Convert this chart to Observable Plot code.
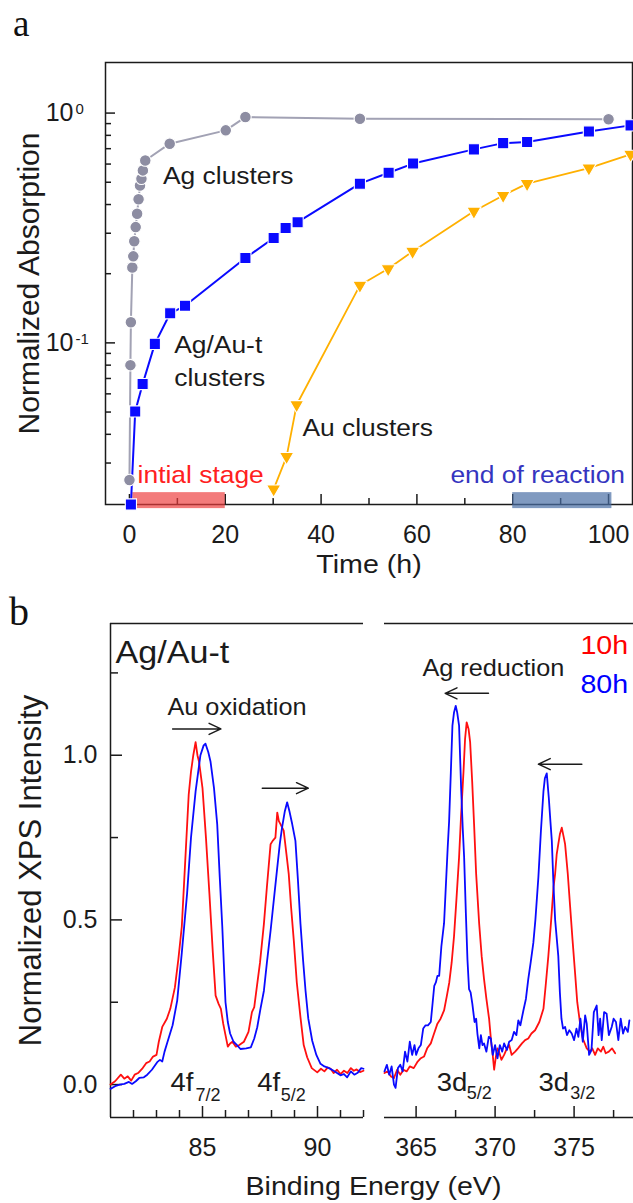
<!DOCTYPE html>
<html><head><meta charset="utf-8">
<script src="https://cdn.jsdelivr.net/npm/d3@7"></script>
<script src="https://cdn.jsdelivr.net/npm/@observablehq/plot@0.6"></script>
<style>
body{margin:0;background:#fff;}
#root{position:relative;width:633px;height:1203px;overflow:hidden;background:#fff;font-family:'Liberation Sans',Arial,Helvetica,sans-serif;color:#1b1b1b;}
.panel{position:absolute;font-family:'Liberation Serif','Times New Roman',serif;color:#111;}
.xlab{position:absolute;text-align:center;font-size:26px;line-height:26px;transform:scaleX(1.1);}
</style></head><body><div id="root"></div>
<script>
// ---------- Panel a data: time (h) vs normalized absorption ----------
const agTime = [0, 0.2, 0.3, 0.6, 0.8, 1.0, 1.3, 1.6, 1.9, 2.2, 2.5, 2.8, 3.3, 8.4, 20.1, 24.2, 48.1, 100];
const agAbs  = [0.0253, 0.080, 0.123, 0.213, 0.238, 0.277, 0.319, 0.365, 0.422, 0.484, 0.518, 0.563, 0.622, 0.736, 0.841, 0.961, 0.945, 0.94];
const mixTime = [0.3, 1.2, 2.75, 5.3, 8.5, 11.6, 24.2, 30.1, 32.6, 35.1, 48.1, 54.1, 59.2, 71.9, 78, 83, 95.9, 104.6];
const mixAbs  = [0.0198, 0.0503, 0.0662, 0.099, 0.1345, 0.145, 0.234, 0.286, 0.316, 0.335, 0.493, 0.55, 0.603, 0.695, 0.740, 0.748, 0.832, 0.884];
const auTime = [30.1, 32.8, 34.9, 48.1, 54, 59.1, 71.9, 78, 83, 95.9, 104.6];
const auAbs  = [0.0231, 0.032, 0.0538, 0.178, 0.210, 0.250, 0.374, 0.438, 0.493, 0.576, 0.661];

const aXDomain = [-5, 105];
const aYDomain = [0.0198, 1.66];
const aXMajor = [0, 20, 40, 60, 80, 100];
const aXMinor = [10, 30, 50, 70, 90];
const aYMajor = [0.1, 1];
const aYMajorBase = ["10", "10"];
const aYMajorExp = ["-1", "0"];
const aYMinor = [0.03, 0.04, 0.05, 0.06, 0.07, 0.08, 0.09, 0.2, 0.3, 0.4, 0.5, 0.6, 0.7, 0.8, 0.9];

const stageSpan = [{t1: 0.7, t2: 20, v1: 0.0190, v2: 0.0223}];
const endSpan   = [{t1: 80, t2: 100.7, v1: 0.0190, v2: 0.0223}];

const aSeriesLabels = [
  {t: 7.0, v: 0.4928, text: "Ag clusters"},
  {t: 9.34, v: 0.0907, text: "Ag/Au-t"},
  {t: 9.34, v: 0.0651, text: "clusters"},
  {t: 36.1, v: 0.0395, text: "Au clusters"}
];
const aStageLabel = [{t: 1.7, v: 0.02446, text: "intial stage"}];
const aEndLabel   = [{t: 67.0, v: 0.02446, text: "end of reaction"}];

// ---------- Panel b data: XPS spectra [binding energy (eV), intensity] ----------
const au10h = [[81.0,0.0],[81.2,0.01],[81.45,0.03],[81.6,0.018],[81.75,0.025],[81.9,0.012],[82.05,0.03],[82.2,0.035],[82.4,0.05],[82.55,0.065],[82.7,0.07],[82.85,0.085],[83.0,0.09],[83.1,0.13],[83.25,0.175],[83.45,0.2],[83.6,0.23],[83.8,0.295],[83.95,0.38],[84.1,0.48],[84.25,0.68],[84.4,0.88],[84.5,0.95],[84.6,1.0],[84.7,1.04],[84.78,1.0],[84.85,0.98],[85.0,0.9],[85.15,0.75],[85.3,0.58],[85.45,0.4],[85.57,0.27],[85.7,0.245],[85.8,0.23],[85.9,0.185],[86.0,0.15],[86.1,0.115],[86.2,0.125],[86.3,0.13],[86.45,0.115],[86.6,0.12],[86.8,0.13],[87.0,0.16],[87.15,0.22],[87.25,0.235],[87.35,0.29],[87.5,0.37],[87.67,0.488],[87.8,0.6],[87.96,0.73],[88.05,0.74],[88.17,0.75],[88.25,0.826],[88.32,0.8],[88.39,0.791],[88.53,0.771],[88.65,0.7],[88.75,0.639],[88.85,0.54],[88.97,0.437],[89.1,0.31],[89.26,0.204],[89.4,0.12],[89.55,0.083],[89.75,0.05],[89.99,0.037],[90.15,0.048],[90.3,0.04],[90.45,0.052],[90.57,0.048],[90.7,0.035],[90.85,0.045],[91.0,0.032],[91.15,0.042],[91.3,0.035],[91.45,0.05],[91.58,0.042],[91.7,0.046],[91.85,0.038],[92.0,0.042]];
const au80h = [[81.0,-0.013],[81.2,-0.005],[81.4,0.0],[81.6,0.002],[81.8,0.008],[81.94,0.002],[82.1,0.01],[82.25,0.02],[82.45,0.022],[82.6,0.03],[82.8,0.045],[83.03,0.068],[83.15,0.075],[83.25,0.07],[83.35,0.1],[83.47,0.128],[83.7,0.18],[83.9,0.255],[84.1,0.4],[84.33,0.58],[84.5,0.75],[84.7,0.89],[84.91,1.0],[85.05,1.03],[85.13,1.035],[85.25,1.01],[85.35,0.98],[85.5,0.9],[85.64,0.79],[85.75,0.63],[85.86,0.48],[85.95,0.33],[86.0,0.25],[86.1,0.19],[86.2,0.155],[86.35,0.13],[86.5,0.12],[86.65,0.108],[86.9,0.11],[87.1,0.113],[87.25,0.14],[87.38,0.174],[87.52,0.23],[87.67,0.285],[87.8,0.37],[87.96,0.467],[88.1,0.56],[88.25,0.659],[88.36,0.73],[88.46,0.781],[88.58,0.83],[88.68,0.857],[88.78,0.83],[88.9,0.791],[89.04,0.74],[89.15,0.62],[89.26,0.488],[89.37,0.38],[89.48,0.285],[89.6,0.2],[89.77,0.133],[89.95,0.09],[90.13,0.063],[90.3,0.055],[90.5,0.05],[90.7,0.042],[90.85,0.035],[91.0,0.028],[91.15,0.032],[91.29,0.022],[91.45,0.04],[91.6,0.03],[91.75,0.036],[91.9,0.05],[92.0,0.048]];
const ag10h = [[363.0,0.035],[363.2,0.04],[363.4,0.025],[363.6,0.02],[363.8,0.045],[364.0,0.03],[364.2,0.045],[364.4,0.04],[364.6,0.055],[364.85,0.05],[365.1,0.07],[365.3,0.08],[365.5,0.085],[365.7,0.11],[365.93,0.125],[366.1,0.15],[366.35,0.185],[366.55,0.2],[366.77,0.225],[366.95,0.27],[367.1,0.31],[367.25,0.37],[367.4,0.45],[367.55,0.56],[367.72,0.69],[367.85,0.82],[368.0,0.95],[368.1,1.05],[368.2,1.1],[368.32,1.08],[368.42,1.04],[368.55,0.92],[368.67,0.79],[368.8,0.64],[368.99,0.49],[369.15,0.39],[369.3,0.32],[369.45,0.26],[369.62,0.2],[369.75,0.13],[369.85,0.09],[369.94,0.045],[370.05,0.085],[370.15,0.11],[370.25,0.1],[370.4,0.075],[370.57,0.09],[370.75,0.11],[370.89,0.12],[371.05,0.09],[371.27,0.1],[371.45,0.11],[371.7,0.125],[371.9,0.135],[372.1,0.14],[372.3,0.155],[372.53,0.165],[372.8,0.19],[373.06,0.23],[373.2,0.3],[373.37,0.39],[373.55,0.5],[373.7,0.6],[373.8,0.64],[373.9,0.7],[374.0,0.73],[374.1,0.76],[374.22,0.78],[374.35,0.75],[374.43,0.73],[374.6,0.64],[374.75,0.54],[374.9,0.44],[375.06,0.34],[375.2,0.25],[375.38,0.185],[375.55,0.14],[375.8,0.11],[376.0,0.1],[376.15,0.11],[376.33,0.09],[376.5,0.11],[376.7,0.1],[376.85,0.115],[377.0,0.095],[377.2,0.1],[377.4,0.11],[377.6,0.095]];
const ag80h = [[363.0,0.04],[363.15,0.06],[363.3,0.03],[363.45,0.055],[363.6,0.0],[363.7,-0.01],[363.85,0.05],[364.0,0.06],[364.15,0.04],[364.3,0.1],[364.45,0.07],[364.6,0.13],[364.75,0.09],[364.9,0.12],[365.0,0.09],[365.15,0.11],[365.3,0.12],[365.45,0.17],[365.6,0.18],[365.75,0.18],[365.93,0.19],[366.05,0.25],[366.15,0.3],[366.25,0.31],[366.35,0.33],[366.46,0.33],[366.6,0.42],[366.77,0.49],[366.9,0.62],[367.0,0.72],[367.09,0.8],[367.2,0.95],[367.3,1.09],[367.4,1.13],[367.51,1.15],[367.6,1.13],[367.72,1.09],[367.85,0.9],[367.95,0.78],[368.04,0.69],[368.15,0.52],[368.25,0.38],[368.35,0.29],[368.45,0.28],[368.56,0.245],[368.7,0.19],[368.8,0.2],[368.88,0.155],[369.0,0.11],[369.1,0.15],[369.2,0.12],[369.3,0.125],[369.45,0.1],[369.6,0.145],[369.73,0.14],[369.85,0.09],[370.0,0.12],[370.15,0.08],[370.3,0.12],[370.45,0.1],[370.57,0.125],[370.75,0.105],[370.89,0.13],[371.05,0.135],[371.2,0.16],[371.35,0.15],[371.47,0.195],[371.6,0.18],[371.79,0.225],[371.95,0.26],[372.1,0.32],[372.25,0.37],[372.42,0.43],[372.55,0.5],[372.74,0.63],[372.9,0.77],[373.06,0.89],[373.15,0.93],[373.27,0.945],[373.4,0.87],[373.5,0.8],[373.59,0.74],[373.7,0.6],[373.8,0.5],[374.0,0.39],[374.1,0.28],[374.2,0.2],[374.3,0.17],[374.43,0.175],[374.55,0.15],[374.7,0.165],[374.85,0.155],[375.0,0.135],[375.15,0.17],[375.27,0.145],[375.4,0.2],[375.55,0.13],[375.7,0.21],[375.8,0.185],[375.95,0.09],[376.1,0.105],[376.25,0.22],[376.43,0.24],[376.55,0.15],[376.65,0.2],[376.75,0.135],[376.9,0.22],[377.06,0.215],[377.2,0.15],[377.38,0.175],[377.5,0.2],[377.65,0.19],[377.8,0.135],[377.95,0.2],[378.1,0.155],[378.23,0.175],[378.4,0.16],[378.5,0.195]];

const bYDomain = [-0.1, 1.4];
const bYMajor = [0, 0.5, 1.0];
const bYMinor = [0.25, 0.75, 1.25];
const auDomain = [81, 92];
const auMajor = [85, 90];
const auMinor = [82, 83, 84, 86, 87, 88, 89, 91, 92];
const agDomain = [363, 378.76];
const agMajor = [365, 370, 375];
const agMinor = [367.5, 372.5, 377.5];

const bTitle = [{e: 81.22, i: 1.28, text: "Ag/Au-t"}];
const auNote = [{e: 86.5, i: 1.1226, text: "Au oxidation"}];
const auArrows = [{e1: 83.7, e2: 85.8, i: 1.08}, {e1: 87.6, e2: 89.6, i: 0.9}];
const auPeakMain = [{e: 83.61, i: -0.0203, text: "4f"}, {e: 87.38, i: -0.0203, text: "4f"}];
const auPeakSub  = [{e: 84.7, i: -0.0485, text: "7/2"}, {e: 88.4, i: -0.0485, text: "5/2"}];
const agNote = [{e: 369.89, i: 1.241, text: "Ag reduction"}];
const agArrows = [{e1: 369.58, e2: 366.84, i: 1.188}, {e1: 375.49, e2: 372.74, i: 0.973}];
const agPeakMain = [{e: 366.31, i: -0.0182, text: "3d"}, {e: 372.74, i: -0.0182, text: "3d"}];
const agPeakSub  = [{e: 368.21, i: -0.0425, text: "5/2"}, {e: 374.75, i: -0.0425, text: "3/2"}];
const legend10 = [{e: 378.42, i: 1.3077, text: "10h"}];
const legend80 = [{e: 378.42, i: 1.1893, text: "80h"}];

// ---------- styling ----------
const FONT = "'Liberation Sans', Arial, Helvetica, sans-serif";
const INK = "#1b1b1b";
const AG_DOT = "#8d8da2", AG_LINE = "#a2a2b4", BLUE = "#0a0aff", ORANGE = "#ffb000", RED = "#ff1010";
const SX = 1.1;

function stretch(svg, k) {
  svg.querySelectorAll("text").forEach(t => {
    const tr = t.getAttribute("transform") || "";
    if (tr.includes("rotate")) return;
    if (!/[A-Za-z]/.test(t.textContent)) return;
    const x = parseFloat(t.getAttribute("x")) || 0;
    const y = parseFloat(t.getAttribute("y")) || 0;
    t.setAttribute("transform", `${tr} translate(${x},${y}) scale(${k},1) translate(${-x},${-y})`);
  });
  return svg;
}
const root = document.getElementById("root");
function place(node, left, top) {
  node.style.position = "absolute";
  node.style.left = left + "px";
  node.style.top = top + "px";
  root.appendChild(node);
}
const baseStyle = {fontFamily: FONT, color: INK, background: "transparent", overflow: "visible"};

// ---------- Panel a ----------
const agData = agTime.map((t, i) => ({t, v: agAbs[i]}));
const mixData = mixTime.map((t, i) => ({t, v: mixAbs[i]}));
const auData = auTime.map((t, i) => ({t, v: auAbs[i]}));

const plotA = Plot.plot({
  width: 633, height: 590,
  marginLeft: 105, marginRight: 1, marginTop: 62, marginBottom: 86,
  style: baseStyle,
  x: {domain: aXDomain, label: null},
  y: {type: "log", domain: aYDomain, label: null},
  marks: [
    Plot.frame({stroke: INK, strokeWidth: 1.5}),
    Plot.axisX(aXMajor, {tickSize: 10, dy: -10, fill: "none", label: null, stroke: INK, strokeWidth: 1.5}),
    Plot.axisX(aXMinor, {tickSize: 6, dy: -6, fill: "none", label: null, stroke: INK, strokeWidth: 1.5}),
    Plot.axisX(aXMajor, {tickSize: 0, tickPadding: 21, fontSize: 25, label: null, fill: INK}),
    Plot.axisY(aYMajor, {tickSize: 10, dx: 10, fill: "none", label: null, stroke: INK, strokeWidth: 1.5}),
    Plot.axisY(aYMinor, {tickSize: 6, dx: 6, fill: "none", label: null, stroke: INK, strokeWidth: 1.5}),
    Plot.text(aYMajor, {y: d => d, text: (d, i) => aYMajorBase[i], frameAnchor: "left", dx: -32, textAnchor: "end", lineAnchor: "middle", fontSize: 25, fill: INK}),
    Plot.text(aYMajor, {y: d => d, text: (d, i) => aYMajorExp[i], frameAnchor: "left", dx: -30, dy: -10, textAnchor: "start", lineAnchor: "top", fontSize: 15, fill: INK}),
    Plot.text(["Time (h)"], {frameAnchor: "bottom", dy: 68, textAnchor: "middle", lineAnchor: "bottom", fontSize: 26, fill: INK}),
    Plot.text(["Normalized Absorption"], {frameAnchor: "left", dx: -76, rotate: -90, textAnchor: "middle", lineAnchor: "middle", fontSize: 30, fill: INK}),
    Plot.rect(stageSpan, {x1: "t1", x2: "t2", y1: "v1", y2: "v2", fill: "#ee3c3c", fillOpacity: 0.68}),
    Plot.rect(endSpan, {x1: "t1", x2: "t2", y1: "v1", y2: "v2", fill: "#4a6fa5", fillOpacity: 0.7}),
    Plot.line(agData, {x: "t", y: "v", stroke: AG_LINE, strokeWidth: 2}),
    Plot.line(mixData, {x: "t", y: "v", stroke: BLUE, strokeWidth: 2}),
    Plot.line(auData, {x: "t", y: "v", stroke: ORANGE, strokeWidth: 1.8}),
    Plot.dot(agData, {x: "t", y: "v", r: 5.8, fill: AG_DOT, stroke: "white", strokeWidth: 1.1}),
    Plot.dot(mixData, {x: "t", y: "v", symbol: "square", r: 6.3, fill: BLUE, stroke: "white", strokeWidth: 1.1}),
    Plot.dot(auData, {x: "t", y: "v", symbol: "triangle", rotate: 180, r: 5.3, fill: ORANGE, stroke: "white", strokeWidth: 1.1}),
    Plot.text(aSeriesLabels, {x: "t", y: "v", text: "text", textAnchor: "start", lineAnchor: "bottom", fontSize: 24, fill: INK}),
    Plot.text(aStageLabel, {x: "t", y: "v", text: "text", textAnchor: "start", lineAnchor: "bottom", fontSize: 24, fill: "#ff2020"}),
    Plot.text(aEndLabel, {x: "t", y: "v", text: "text", textAnchor: "start", lineAnchor: "bottom", fontSize: 24, fill: "#3535c0"})
  ]
});
place(stretch(plotA, SX), 0, 0);

// ---------- Panel b, left (Au 4f) ----------
const toXY = d => ({e: d[0], i: d[1]});
const plotBL = Plot.plot({
  width: 366, height: 613,
  marginLeft: 110, marginRight: 3, marginTop: 33, marginBottom: 86,
  style: baseStyle,
  x: {domain: auDomain, label: null},
  y: {domain: bYDomain, label: null},
  marks: [
    Plot.ruleX([auDomain[0]], {stroke: INK, strokeWidth: 1.5}),
    Plot.ruleY(bYDomain, {stroke: INK, strokeWidth: 1.5}),
    Plot.axisY(bYMajor, {tickSize: 12, dx: 12, fill: "none", label: null, stroke: INK, strokeWidth: 1.5}),
    Plot.axisY(bYMinor, {tickSize: 8, dx: 8, fill: "none", label: null, stroke: INK, strokeWidth: 1.5}),
    Plot.axisY(bYMajor, {tickSize: 0, tickPadding: 13, tickFormat: d => d.toFixed(1), fontSize: 25, label: null, fill: INK}),
    Plot.axisX(auMajor, {tickSize: 11, dy: -11, fill: "none", label: null, stroke: INK, strokeWidth: 1.5}),
    Plot.axisX(auMinor, {tickSize: 7, dy: -7, fill: "none", label: null, stroke: INK, strokeWidth: 1.5}),
    Plot.axisX(auMajor, {tickSize: 0, tickPadding: 21, fontSize: 25, label: null, fill: INK}),
    Plot.text(["Normalized XPS Intensity"], {frameAnchor: "left", dx: -79, rotate: -90, textAnchor: "middle", lineAnchor: "middle", fontSize: 31, fill: INK}),
    Plot.line(au10h.map(toXY), {x: "e", y: "i", stroke: RED, strokeWidth: 1.8}),
    Plot.line(au80h.map(toXY), {x: "e", y: "i", stroke: BLUE, strokeWidth: 1.8}),
    Plot.text(bTitle, {x: "e", y: "i", text: "text", textAnchor: "start", lineAnchor: "bottom", fontSize: 31, fill: INK}),
    Plot.text(auNote, {x: "e", y: "i", text: "text", textAnchor: "middle", lineAnchor: "bottom", fontSize: 23, fill: INK}),
    Plot.arrow(auArrows, {x1: "e1", x2: "e2", y1: "i", y2: "i", stroke: INK, strokeWidth: 1.5, headLength: 13, headAngle: 50}),
    Plot.text(auPeakMain, {x: "e", y: "i", text: "text", textAnchor: "start", lineAnchor: "bottom", fontSize: 25, fill: INK}),
    Plot.text(auPeakSub, {x: "e", y: "i", text: "text", textAnchor: "start", lineAnchor: "bottom", fontSize: 18, fill: INK})
  ]
});
place(stretch(plotBL, SX), 0, 590);

// ---------- Panel b, right (Ag 3d) ----------
const plotBR = Plot.plot({
  width: 259, height: 613,
  marginLeft: 10, marginRight: 0, marginTop: 33, marginBottom: 86,
  style: baseStyle,
  x: {domain: agDomain, label: null},
  y: {domain: bYDomain, label: null, axis: null},
  marks: [
    Plot.ruleY(bYDomain, {stroke: INK, strokeWidth: 1.5}),
    Plot.axisX(agMajor, {tickSize: 11, dy: -11, fill: "none", label: null, stroke: INK, strokeWidth: 1.5}),
    Plot.axisX(agMinor, {tickSize: 7, dy: -7, fill: "none", label: null, stroke: INK, strokeWidth: 1.5}),
    Plot.axisX(agMajor, {tickSize: 0, tickPadding: 21, fontSize: 25, label: null, fill: INK}),
    Plot.line(ag10h.map(toXY), {x: "e", y: "i", stroke: RED, strokeWidth: 1.8}),
    Plot.line(ag80h.map(toXY), {x: "e", y: "i", stroke: BLUE, strokeWidth: 1.8}),
    Plot.text(agNote, {x: "e", y: "i", text: "text", textAnchor: "middle", lineAnchor: "bottom", fontSize: 23, fill: INK}),
    Plot.arrow(agArrows, {x1: "e1", x2: "e2", y1: "i", y2: "i", stroke: INK, strokeWidth: 1.5, headLength: 13, headAngle: 50}),
    Plot.text(agPeakMain, {x: "e", y: "i", text: "text", textAnchor: "start", lineAnchor: "bottom", fontSize: 25, fill: INK}),
    Plot.text(agPeakSub, {x: "e", y: "i", text: "text", textAnchor: "start", lineAnchor: "bottom", fontSize: 18, fill: INK}),
    Plot.text(legend10, {x: "e", y: "i", text: "text", textAnchor: "end", lineAnchor: "bottom", fontSize: 26, fill: "#ff0000"}),
    Plot.text(legend80, {x: "e", y: "i", text: "text", textAnchor: "end", lineAnchor: "bottom", fontSize: 26, fill: "#0000ff"})
  ]
});
place(stretch(plotBR, SX), 374, 590);

// ---------- HTML labels ----------
const la = document.createElement("div"); la.className = "panel"; la.textContent = "a";
la.style.fontSize = "37px"; la.style.lineHeight = "37px"; place(la, 13, 5);
const lb = document.createElement("div"); lb.className = "panel"; lb.textContent = "b";
lb.style.fontSize = "40px"; lb.style.lineHeight = "40px"; place(lb, 9, 592);
const xl = document.createElement("div"); xl.className = "xlab"; xl.textContent = "Binding Energy (eV)";
xl.style.width = "747px"; place(xl, 0, 1173);
</script>
</body></html>
